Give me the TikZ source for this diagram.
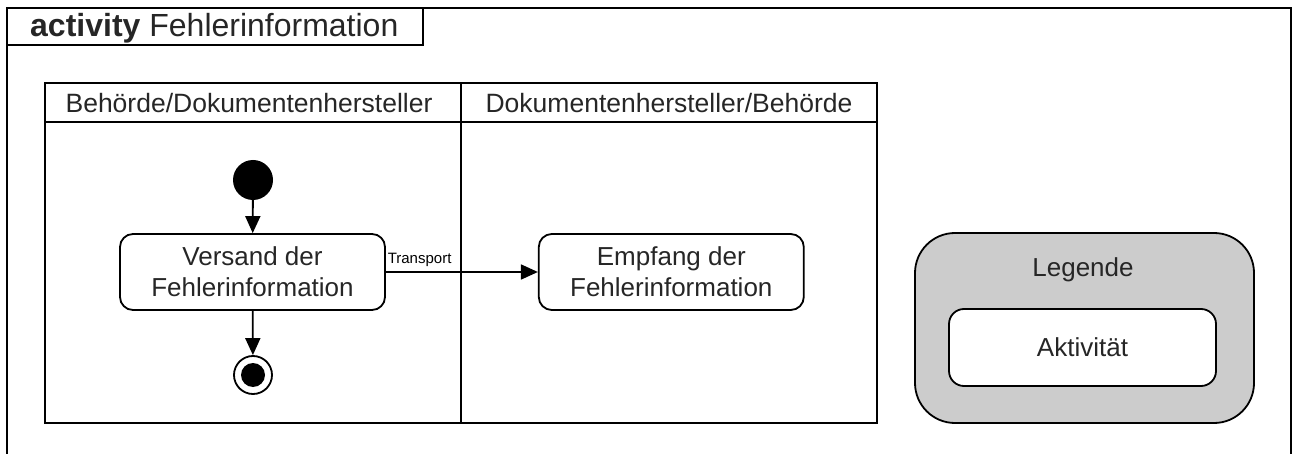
\documentclass[tikz,border=0pt]{standalone}
\usepackage{fontspec}
\setmainfont{Liberation Sans}
\usetikzlibrary{positioning, arrows.meta}

\tikzset{
    activity/.style={draw, line width=1.8pt, rounded corners=13pt, minimum width=265pt,
        minimum height=76pt, align=center, font=\fontsize{26}{31}\selectfont, text=black!85},
    lanehead/.style={font=\fontsize{26.5}{30}\selectfont, text=black!85},
    startnode/.style={circle, fill=black, minimum size=40pt, inner sep=0pt},
    endnode/.style={circle, draw, line width=1.8pt, minimum size=38pt, inner sep=0pt,
        path picture={\fill (path picture bounding box.center) circle (12pt);}},
    flow/.style={line width=1.8pt, -{Triangle[length=17pt,width=15pt]}},
    legendbox/.style={draw, line width=1.8pt, fill=black!20, rounded corners=40pt,
        minimum width=339pt, minimum height=190pt}
}

\begin{document}
\begin{tikzpicture}[x=1pt,y=-1pt]
    \useasboundingbox (0,0) rectangle (1293,454);
    % frame and title
    \draw[line width=2.2pt] (7,454) -- (7,8) -- (1291,8) -- (1291,454);
    \draw[line width=1.8pt] (7,45) -- (423,45) -- (423,8);
    \node[anchor=base west, inner sep=0pt, font=\fontsize{32}{36}\selectfont, text=black!85] (title) at (30,37)
        {\textbf{activity} Fehlerinformation};

    % swimlanes
    \draw[line width=1.8pt] (45,83) rectangle (877,423);
    \draw[line width=1.8pt] (45,122) -- (877,122) (461,83) -- (461,423);
    \node[lanehead] (lane1) at (249,103) {Behörde/Dokumentenhersteller};
    \node[lanehead] (lane2) at (669,103) {Dokumentenhersteller/Behörde};

    % activities
    \node[startnode] (start) at (253,180) {};
    \node[activity] (versand) at (252.5,272) {Versand der\\Fehlerinformation};
    \node[endnode] (ende) at (253,375) {};
    \node[activity] (empfang) [right=152pt of versand] {Empfang der\\Fehlerinformation};

    \path[flow]
        (start) edge (versand)
        (versand) edge (ende)
                  edge node[pos=0, anchor=south west, inner sep=1pt, yshift=3pt,
                      font=\fontsize{15}{17}\selectfont] {Transport} (empfang);

    % legend
    \node[legendbox] (legende) at (1084.5,328) {};
    \node[lanehead, font=\fontsize{26}{30}\selectfont] (legtitle) at (1083,270) {Legende};
    \node[activity, fill=white, minimum width=267pt, minimum height=77pt, rounded corners=15pt]
        (legakt) at (1082.5,347.5) {Aktivität};
\end{tikzpicture}
\end{document}
